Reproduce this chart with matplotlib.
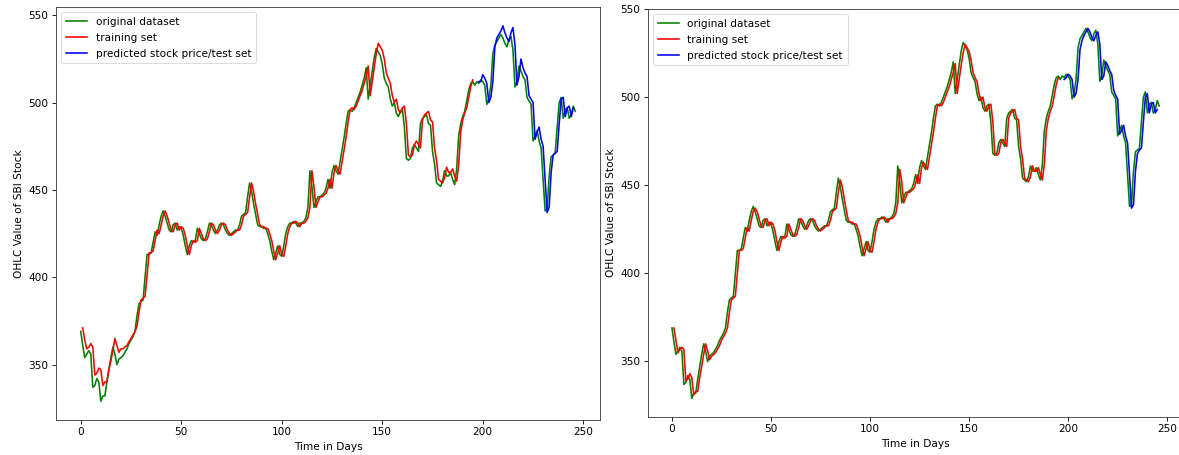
import matplotlib
matplotlib.use("Agg")
import matplotlib.pyplot as plt
import numpy as np

plt.rcParams['font.family'] = ['DejaVu Sans']
plt.rcParams['font.size'] = 7.6

# original OHLC average, days 0..246
original = [
    369, 361, 354, 356, 358, 356, 337, 338, 342, 340,
    329, 332, 332, 340, 347, 354, 360, 356, 350, 353,
    354, 355, 357, 359, 362, 364, 366, 369, 378, 385,
    386, 387, 400, 413, 413, 414, 420, 426, 424, 430,
    435, 438, 435, 431, 427, 426, 430, 431, 427, 429,
    428, 424, 418, 413, 418, 421, 420, 421, 428, 425,
    422, 421, 422, 426, 431, 430, 427, 425, 427, 430,
    431, 430, 427, 425, 424, 425, 426, 427, 427, 430,
    435, 436, 437, 446, 454, 449, 442, 436, 430, 429,
    429, 428, 428, 425, 421, 415, 410, 414, 418, 413,
    412, 418, 425, 429, 431, 431, 432, 431, 429, 431,
    431, 432, 434, 440, 461, 452, 440, 443, 446, 446,
    447, 448, 451, 456, 451, 460, 464, 461, 459, 466,
    473, 480, 488, 495, 496, 495, 497, 500, 503, 506,
    510, 514, 520, 502, 510, 518, 526, 531, 529, 527,
    522, 514, 511, 509, 502, 498, 500, 494, 492, 495,
    496, 486, 468, 467, 468, 474, 476, 474, 472, 488,
    491, 492, 493, 488, 487, 472, 465, 454, 453, 452,
    455, 461, 458, 458, 460, 456, 453, 462, 481, 488,
    492, 495, 501, 507, 511, 512, 510, 512, 511, 513,
    512, 510, 499, 502, 510, 528, 533, 535, 537, 539,
    537, 534, 532, 536, 538, 530, 509, 512, 521, 518,
    515, 513, 503, 501, 499, 478, 481, 484, 478, 474,
    456, 438, 439, 458, 469, 470, 471, 486, 500, 503,
    491, 496, 497, 491, 493, 498, 495,
]

train_start = 1
test_start = 198

# left model: training predictions (days 1..195) and test predictions (days 198..245)
train_left = [
    371, 364, 359, 360, 362, 360, 344, 345, 348, 347,
    338, 340, 340, 347, 352, 358, 365, 361, 357, 359,
    359, 360, 361, 363, 365, 367, 369, 372, 380, 387,
    388, 389, 401, 414, 414, 415, 421, 427, 425, 430,
    435, 438, 435, 431, 427, 426, 430, 431, 427, 429,
    428, 424, 418, 413, 418, 421, 420, 421, 428, 425,
    422, 421, 422, 426, 431, 430, 427, 425, 427, 430,
    431, 430, 427, 425, 424, 425, 426, 427, 427, 430,
    435, 436, 437, 446, 454, 449, 442, 436, 430, 429,
    429, 428, 428, 425, 421, 415, 410, 414, 418, 413,
    412, 418, 425, 429, 431, 431, 432, 431, 429, 431,
    431, 432, 434, 440, 461, 452, 440, 443, 446, 446,
    447, 448, 451, 456, 451, 460, 464, 461, 459, 466,
    473, 480, 489, 496, 497, 496, 498, 501, 504, 507,
    511, 515, 521, 504, 512, 520, 528, 534, 532, 530,
    525, 517, 514, 511, 504, 500, 502, 496, 494, 497,
    498, 488, 470, 469, 470, 476, 478, 476, 474, 490,
    493, 494, 495, 490, 489, 474, 467, 456, 455, 454,
    457, 463, 460, 460, 462, 458, 455, 464, 483, 490,
    494, 497, 503, 509, 513,
]
test_left = [
    512, 512, 516, 514, 511, 500, 503, 512, 532, 537,
    539, 541, 544, 540, 537, 535, 540, 543, 533, 510,
    515, 525, 520, 517, 515, 504, 502, 500, 479, 483,
    486, 479, 475, 456, 437, 440, 460, 470, 471, 472,
    488, 502, 503, 492, 497, 498, 492, 497,
]

# right model
train_right = [
    369, 362, 355, 357, 358, 357, 339, 340, 343, 341,
    331, 333, 333, 341, 347, 354, 360, 356, 351, 353,
    354, 355, 357, 359, 362, 364, 366, 369, 378, 385,
    386, 387, 400, 413, 413, 414, 420, 426, 424, 430,
    435, 437, 435, 431, 427, 426, 430, 431, 427, 429,
    428, 424, 418, 413, 418, 421, 420, 421, 428, 425,
    422, 421, 422, 426, 431, 430, 427, 425, 427, 430,
    431, 430, 427, 425, 424, 425, 426, 427, 427, 430,
    435, 436, 437, 446, 453, 449, 442, 436, 430, 429,
    429, 428, 428, 425, 421, 415, 410, 414, 418, 413,
    412, 418, 425, 429, 431, 431, 432, 431, 429, 431,
    431, 432, 434, 440, 459, 452, 440, 443, 446, 446,
    447, 448, 451, 456, 451, 460, 463, 461, 459, 466,
    473, 480, 488, 495, 496, 495, 497, 500, 503, 506,
    510, 514, 519, 502, 510, 518, 525, 530, 528, 526,
    521, 514, 511, 509, 502, 498, 500, 494, 492, 495,
    496, 486, 468, 467, 468, 474, 476, 474, 472, 488,
    491, 492, 493, 488, 487, 472, 465, 454, 453, 452,
    455, 461, 458, 458, 460, 456, 453, 462, 481, 488,
    492, 495, 501, 507, 511,
]
test_right = [
    510, 511, 513, 512, 510, 500, 502, 510, 527, 532,
    535, 537, 539, 537, 534, 532, 535, 537, 530, 510,
    512, 520, 518, 515, 513, 504, 501, 499, 479, 481,
    484, 478, 474, 456, 437, 439, 458, 468, 470, 471,
    486, 500, 502, 491, 496, 497, 491, 493,
]

labels = ['original dataset', 'training set', 'predicted stock price/test set']

W, H = 1179, 455
fig = plt.figure(figsize=(W / 100, H / 100), dpi=100)
fig.patch.set_facecolor('white')

ax_left = fig.add_axes([56 / W, 1 - 420 / H, 544 / W, 413 / H])
ax_right = fig.add_axes([647.6 / W, 1 - 417 / H, 536 / W, 408 / H])

def draw(ax, train, test):
    x_orig = np.arange(len(original))
    x_train = np.arange(train_start, train_start + len(train))
    x_test = np.arange(test_start, test_start + len(test))
    ax.plot(x_orig, original, color='g', lw=1.15, label=labels[0])
    ax.plot(x_train, train, color='r', lw=1.15, label=labels[1])
    ax.plot(x_test, test, color='b', lw=1.15, label=labels[2])
    ax.set_xlabel('Time in Days', fontsize=7.6, labelpad=3)
    ax.set_ylabel('OHLC Value of SBI Stock', fontsize=7.6, labelpad=3)
    ax.set_xticks([0, 50, 100, 150, 200, 250])
    ax.set_yticks([350, 400, 450, 500, 550])
    ax.tick_params(labelsize=7.6, length=2.7, width=0.6, pad=2.6)
    for s in ax.spines.values():
        s.set_linewidth(0.6)
        s.set_color('#333333')
    leg = ax.legend(loc='upper left', fontsize=7.6, handlelength=2.0,
                    borderpad=0.45, labelspacing=0.55, framealpha=0.8)
    leg.get_frame().set_linewidth(0.6)

draw(ax_left, train_left, test_left)
draw(ax_right, train_right, test_right)
# the right panel is cut off at the image edge in the reference
ax_right.spines['right'].set_visible(False)

fig.savefig('out.png', dpi=100, facecolor='white')
